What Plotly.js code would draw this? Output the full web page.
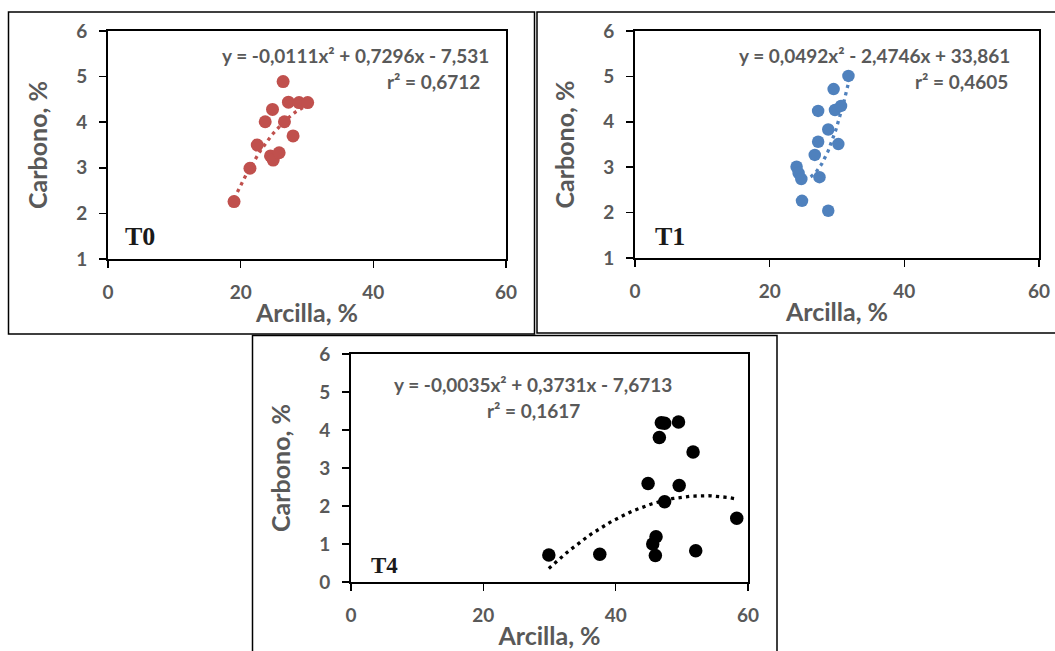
<!DOCTYPE html>
<html>
<head>
<meta charset="utf-8">
<script src="https://cdn.plot.ly/plotly-3.0.1.min.js"></script>
<style>html,body{margin:0;padding:0;background:#fff;}#chart{width:1055px;height:651px;}</style>
</head>
<body>
<div id="chart"></div>
<script>
// ---- Data ----
const t0Arcilla = [19.0, 21.4, 22.5, 23.7, 24.8, 24.5, 24.9, 25.8, 26.4, 26.6, 27.2, 27.9, 28.8, 30.1];
const t0Carbono = [2.26, 2.99, 3.50, 4.01, 4.28, 3.26, 3.17, 3.33, 4.89, 4.01, 4.44, 3.70, 4.43, 4.43];
const t1Arcilla = [31.7, 29.5, 27.2, 29.7, 30.6, 28.7, 27.2, 30.2, 26.7, 24.0, 24.3, 24.7, 27.4, 24.8, 28.7];
const t1Carbono = [5.01, 4.72, 4.24, 4.26, 4.35, 3.83, 3.56, 3.51, 3.27, 3.01, 2.87, 2.74, 2.78, 2.26, 2.04];
const t4Arcilla = [29.9, 37.6, 46.9, 47.4, 49.5, 46.6, 51.7, 44.9, 49.6, 47.4, 58.3, 46.1, 45.6, 46.0, 52.1];
const t4Carbono = [0.71, 0.73, 4.19, 4.18, 4.21, 3.80, 3.42, 2.59, 2.54, 2.11, 1.68, 1.19, 1.00, 0.70, 0.82];

// Polynomial trendline coefficients printed on the chart [a, b, c] for y = a x^2 + b x + c
const t0Coef = [-0.0111, 0.7296, -7.531];
const t1Coef = [0.0492, -2.4746, 33.861];
const t4Coef = [-0.0035, 0.3731, -7.6713];

const eqTexts = [
  'y = -0,0111x² + 0,7296x - 7,531', 'r² = 0,6712',
  'y = 0,0492x² - 2,4746x + 33,861', 'r² = 0,4605',
  'y = -0,0035x² + 0,3731x - 7,6713', 'r² = 0,1617'
];
const panelLabels = ['T0', 'T1', 'T4'];
const xTitle = 'Arcilla, %';
const yTitle = 'Carbono, %';
const xTicks = [0, 20, 40, 60];

// ---- helpers ----
function trend(coef, xs) {
  const lo = Math.min(...xs), hi = Math.max(...xs);
  const n = 80, X = [], Y = [];
  for (let i = 0; i <= n; i++) {
    const x = lo + (hi - lo) * i / n;
    X.push(x); Y.push(coef[0] * x * x + coef[1] * x + coef[2]);
  }
  return {x: X, y: Y};
}
const W = 1055, H = 651;
const px = v => v / W, py = v => 1 - v / H;

const RED = '#C0504D', BLUE = '#4F81BD', BLACK = '#000000';
const GRAY = '#595959';
const FONT = 'Lato, "Open Sans", sans-serif';

function dotLine(color) { return {color: color, width: 3.3, dash: '3.3px,4.2px'}; }

const tr0 = trend(t0Coef, t0Arcilla), tr1 = trend(t1Coef, t1Arcilla), tr4 = trend(t4Coef, t4Arcilla);

const data = [
  {x: tr0.x, y: tr0.y, xaxis: 'x', yaxis: 'y', mode: 'lines', line: dotLine(RED), hoverinfo: 'skip'},
  {x: t0Arcilla, y: t0Carbono, xaxis: 'x', yaxis: 'y', mode: 'markers', marker: {color: RED, size: 13}},
  {x: tr1.x, y: tr1.y, xaxis: 'x2', yaxis: 'y2', mode: 'lines', line: dotLine(BLUE), hoverinfo: 'skip'},
  {x: t1Arcilla, y: t1Carbono, xaxis: 'x2', yaxis: 'y2', mode: 'markers', marker: {color: BLUE, size: 12.5}},
  {x: tr4.x, y: tr4.y, xaxis: 'x3', yaxis: 'y3', mode: 'lines', line: dotLine(BLACK), hoverinfo: 'skip'},
  {x: t4Arcilla, y: t4Carbono, xaxis: 'x3', yaxis: 'y3', mode: 'markers', marker: {color: BLACK, size: 13.5}}
];

const tickFont = {family: FONT, size: 19, color: GRAY, weight: 'bold'};
const titleFont = {family: FONT, size: 25, color: GRAY, weight: 'bold'};

function xax(domain, anchor) {
  return {
    domain: domain, anchor: anchor, range: [0, 60], tickvals: xTicks, ticktext: xTicks.map(String),
    showgrid: false, zeroline: false, showline: true, mirror: true, linecolor: '#000', linewidth: 2,
    ticks: 'outside', ticklen: 7, tickwidth: 1.5, tickcolor: '#000', ticklabelstandoff: 8,
    tickfont: tickFont,
    title: {text: xTitle, standoff: 3, font: titleFont},
    fixedrange: true
  };
}
function yax(domain, anchor, lo) {
  const vals = []; for (let v = lo; v <= 6; v++) vals.push(v);
  return {
    domain: domain, anchor: anchor, range: [lo, 6], tickvals: vals, ticktext: vals.map(String),
    showgrid: false, zeroline: false, showline: true, mirror: true, linecolor: '#000', linewidth: 2,
    ticks: 'outside', ticklen: 7, tickwidth: 1.5, tickcolor: '#000', ticklabelstandoff: 8,
    tickfont: tickFont,
    title: {text: yTitle, standoff: 21, font: titleFont},
    fixedrange: true
  };
}

const eqFont = {family: FONT, size: 19, color: GRAY, weight: 'bold'};
function ann(text, x, y, xanchor, font) {
  return {text: text, x: px(x), y: py(y), xref: 'paper', yref: 'paper', xanchor: xanchor, yanchor: 'middle',
          showarrow: false, font: font};
}
const labFont = s => ({family: '"Liberation Serif", "Times New Roman", serif', size: s, color: '#1a1a1a', weight: 'bold'});

const layout = {
  width: W, height: H, margin: {l: 0, r: 0, t: 0, b: 0},
  paper_bgcolor: '#fff', plot_bgcolor: '#fff', showlegend: false,
  xaxis: xax([px(108), px(506)], 'y'),
  yaxis: yax([py(259), py(31)], 'x', 1),
  xaxis2: xax([px(635), px(1039)], 'y2'),
  yaxis2: yax([py(258), py(31)], 'x2', 1),
  xaxis3: xax([px(351), px(748)], 'y3'),
  yaxis3: yax([py(582), py(354)], 'x3', 0),
  annotations: [
    ann(eqTexts[0], 491, 55, 'right', eqFont),
    ann(eqTexts[1], 482, 81, 'right', eqFont),
    ann(eqTexts[2], 1012, 55, 'right', eqFont),
    ann(eqTexts[3], 1010, 81, 'right', eqFont),
    ann(eqTexts[4], 533, 384, 'center', eqFont),
    ann(eqTexts[5], 533, 410, 'center', eqFont),
    ann(panelLabels[0], 123, 236, 'left', labFont(26)),
    ann(panelLabels[1], 653, 237, 'left', labFont(26)),
    ann(panelLabels[2], 369, 565, 'left', labFont(23))
  ],
  shapes: [
    {type: 'rect', xref: 'paper', yref: 'paper', x0: px(8.5), x1: px(534.5), y0: py(334), y1: py(12), line: {color: '#000', width: 1.5}},
    {type: 'rect', xref: 'paper', yref: 'paper', x0: px(537), x1: px(1060), y0: py(333), y1: py(12), line: {color: '#000', width: 1.5}},
    {type: 'rect', xref: 'paper', yref: 'paper', x0: px(252.5), x1: px(777), y0: py(660), y1: py(335.5), line: {color: '#000', width: 1.5}}
  ]
};

Plotly.newPlot('chart', data, layout, {displayModeBar: false, staticPlot: true});
</script>
</body>
</html>
